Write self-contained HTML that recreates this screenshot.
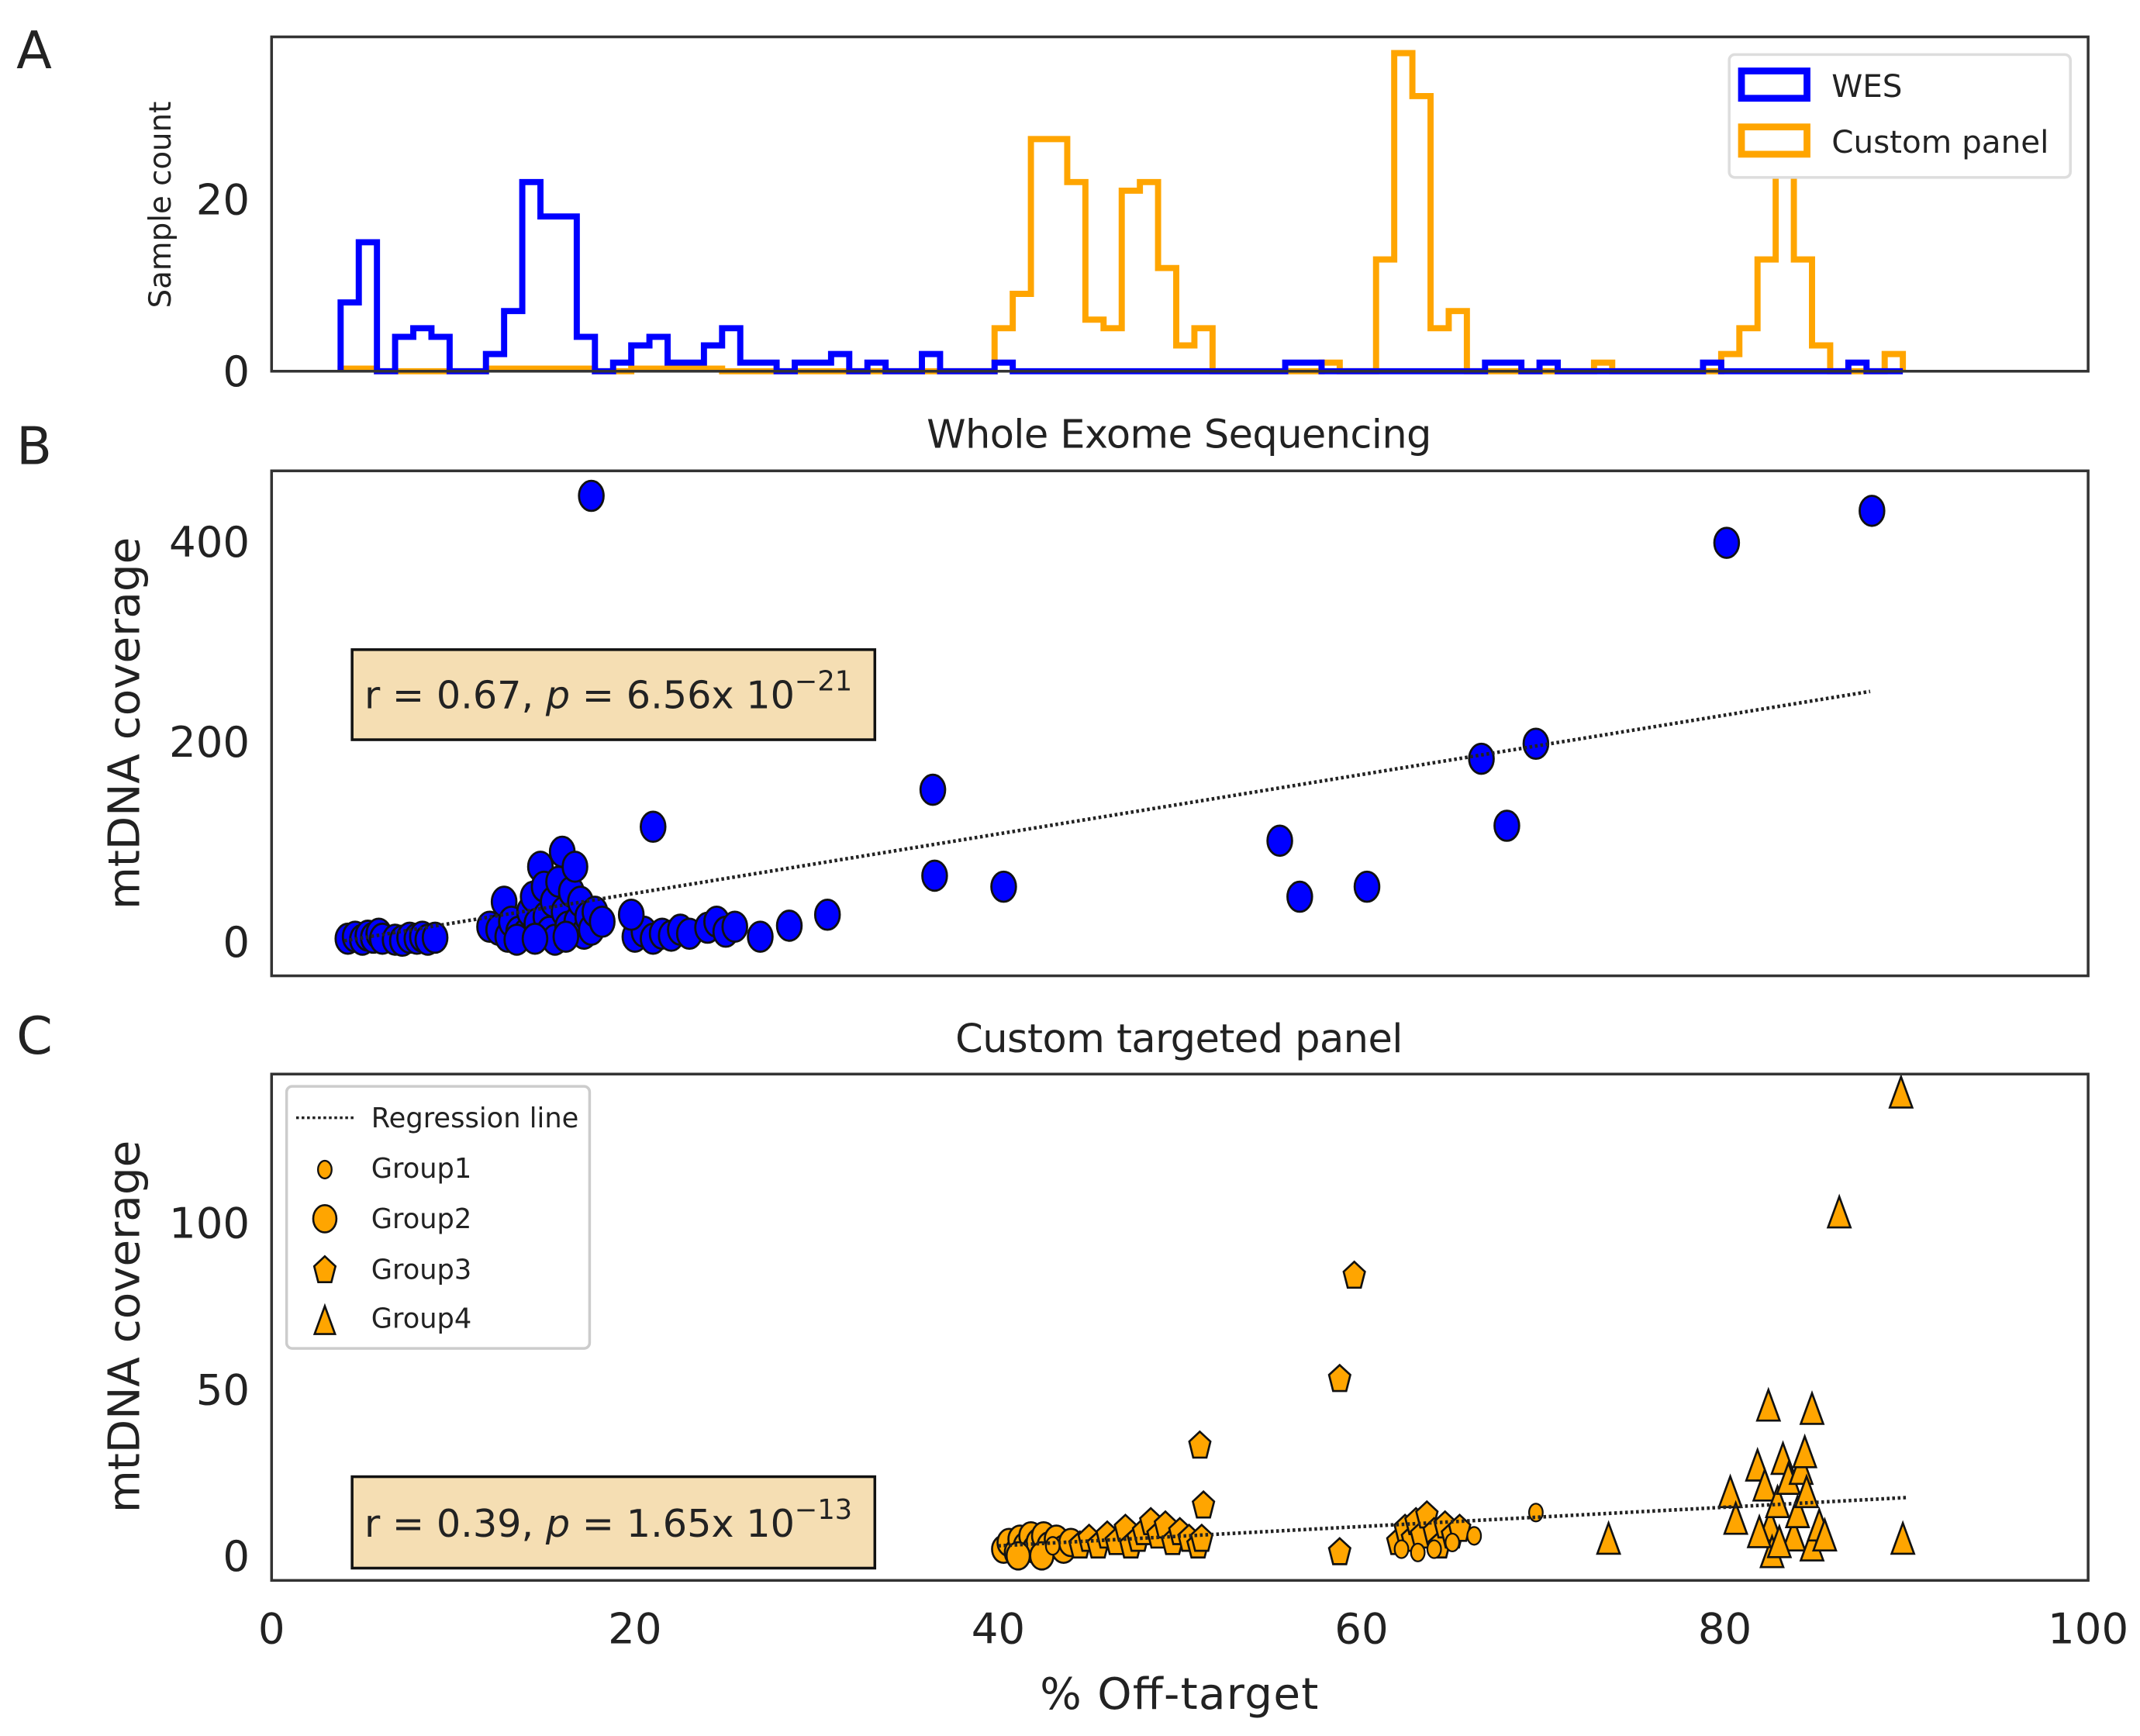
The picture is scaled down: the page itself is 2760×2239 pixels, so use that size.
<!DOCTYPE html>
<html><head><meta charset="utf-8">
<style>
html,body{margin:0;padding:0;background:#fff;}
svg{display:block;}
text{font-family:"DejaVu Sans","Liberation Sans",sans-serif;fill:#222;}
</style></head>
<body>
<svg id="fig" width="2760" height="2239" viewBox="0 0 1568 1272" xmlns="http://www.w3.org/2000/svg">
<g id="A"></g>
<g id="B"></g>
<g id="C"></g>
</svg>
<script>
// ---- data ----
const binStart = 3.8;
const binWidth = 1.0;
const wesCounts = [8,15,0,4,5,4,0,0,2,7,22,18,18,4,0,1,3,4,1,1,3,5,1,1,0,1,1,2,0,1,0,0,2,0,0,0,1,0,0,0,0,0,0,0,0,0,0,0,0,0,0,0,1,1,0,0,0,0,0,0,0,0,0,1,1,0,1,0,0,0,0,0,0,0,0,1,0,0,0,0,0,0,0,1,0,0];
const customCounts = [0.3,0.3,0,0,0,0,0,0,0.3,0.3,0.3,0.3,0.3,0.3,0,0,0.3,0.3,0.3,0.3,0.3,0,0,0,0,0,0,0,0,0,0,0,0,0,0,0,5,9,27,27,22,6,5,21,22,12,3,5,0,0,0,0,0,0,1,0,0,13,37,32,5,7,0,0,0,0,0,0,0,1,0,0,0,0,0,0,2,5,13,24,13,3,0,0,0,2];
const histYTicks = [0,20];
const xTicks = [0,20,40,60,80,100];

const wesX = [4.2,4.6,5.0,5.3,5.6,5.9,6.1,6.8,7.2,7.6,8.0,8.3,8.6,9.0,
 12.0,12.5,12.8,13.0,13.2,13.6,14.0,14.2,14.4,14.6,14.8,15.0,15.1,15.3,15.5,15.6,15.8,16.0,16.1,16.3,16.5,16.7,16.8,17.0,17.2,17.4,17.6,17.8,18.2,13.5,14.5,16.2,
 20.0,20.5,21.0,21.5,22.0,22.5,23.0,24.0,24.5,25.0,25.5,19.8,
 17.6,80.1,88.1,36.4,36.5,40.3,21.0,55.5,56.6,60.3,66.6,69.6,68.0,30.6,28.5,26.9];
const wesY = [3,5,2,6,4,8,3,2,1,4,3,5,2,4,
 15,12,40,5,20,10,8,30,45,18,75,55,25,10,40,2,60,90,30,15,50,75,20,40,8,25,12,30,20,2,3,5,
 5,10,3,8,6,12,8,14,20,10,15,27,
 446,399,431,152,66,55,115,101,45,55,183,198,116,27,16,5];
const wesYTicks = [0,200,400];
const wesFit = [-11, 2.97]; // intercept, slope
const wesFitRange = [4, 88];

const g1X = [62.2,63.1,64.0,65.0,66.2,69.6,43.0];
const g1Y = [2,1,2,4,6,13,3];
const g2X = [40.3,40.6,41.0,41.2,41.5,41.8,42.0,42.2,42.5,42.8,43.2,43.6,44.0,41.1,42.4];
const g2Y = [2,4,1,5,3,6,2,4,6,3,5,2,4,0,0];
const g3X = [44.5,45.0,45.5,46.0,46.5,47.0,47.3,47.7,48.0,48.4,48.8,49.2,49.6,50.0,50.5,51.0,51.2,51.1,51.3,58.8,59.6,58.8,62.0,62.4,62.8,63.0,63.3,63.6,64.0,64.3,64.6,65.0,65.4];
const g3Y = [3,5,3,6,4,8,3,5,7,10,6,9,4,7,5,3,5,33,15,53,84,1,4,8,5,10,6,12,7,3,9,6,8];
const g4X = [89.7,86.3,82.4,84.8,73.6,89.8,80.3,80.6,81.8,82.2,82.5,82.6,82.9,83.2,83.5,83.8,84.0,84.2,84.5,84.8,85.2,85.5,83.0,81.9,84.4];
const g4Y = [138,102,44,43,4,4,18,10,26,20,8,0,15,28,22,5,12,25,18,2,8,5,3,6,30];
const cYTicks = [0,50,100];
const cFit = [-8.6, 0.29];
const cFitRange = [40, 90];

// ---- helpers ----
const NS = "http://www.w3.org/2000/svg";
function mk(parent, tag, attrs, txt){
  const e = document.createElementNS(NS, tag);
  for (const k in attrs) e.setAttribute(k, attrs[k]);
  if (txt !== undefined) e.textContent = txt;
  parent.appendChild(e);
  return e;
}
const X0 = 199, X1 = 1530;
const sx = v => X0 + (X1 - X0) * v / 100;
const syA = v => 272 - 6.3 * v;
const syB = v => 690 - 0.7325 * v;
const syC = v => 1140 - 2.44 * v;

const A = document.getElementById('A');
const B = document.getElementById('B');
const C = document.getElementById('C');

// ---- Panel A ----
function histPath(counts){
  let d = "M" + sx(binStart) + "," + syA(0);
  counts.forEach((c, i) => {
    const xa = sx(binStart + i * binWidth), xb = sx(binStart + (i + 1) * binWidth);
    d += " L" + xa + "," + syA(c) + " L" + xb + "," + syA(c);
  });
  d += " L" + sx(binStart + counts.length * binWidth) + "," + syA(0);
  return d;
}
let p = mk(A, 'path', {d: histPath(customCounts), fill: 'none', stroke: '#FFA500', 'stroke-width': 4.5});


p = mk(A, 'path', {d: histPath(wesCounts), fill: 'none', stroke: '#0000FF', 'stroke-width': 4.5});


let fr = mk(A, 'rect', {x: 199, y: 27, width: 1331, height: 245, fill: 'none', stroke: '#333', 'stroke-width': 2});


histYTicks.forEach(t => {
  const e = mk(A, 'text', {x: 183, y: syA(t) + 11, 'font-size': 31, 'text-anchor': 'end'}, String(t));
  
  
});
let tt = mk(A, 'text', {x: 0, y: 0, 'font-size': 22, 'text-anchor': 'middle', transform: 'translate(125,150) rotate(-90)'}, 'Sample count');


tt = mk(A, 'text', {x: 12, y: 50, 'font-size': 38}, 'A');


// legend
const lg = mk(A, 'g', {});


mk(lg, 'rect', {x: 1267, y: 40, width: 250, height: 90, rx: 4, fill: '#fff', stroke: '#ddd', 'stroke-width': 2});
let le = mk(lg, 'rect', {x: 1276, y: 52, width: 48, height: 20, fill: 'none', stroke: '#0000FF', 'stroke-width': 5});


mk(lg, 'text', {x: 1342, y: 71, 'font-size': 23}, 'WES');
le = mk(lg, 'rect', {x: 1276, y: 93, width: 48, height: 20, fill: 'none', stroke: '#FFA500', 'stroke-width': 5});


mk(lg, 'text', {x: 1342, y: 112, 'font-size': 23}, 'Custom panel');

// ---- Panel B ----
tt = mk(B, 'text', {x: 864, y: 328, 'font-size': 29, 'text-anchor': 'middle', textLength: 370}, 'Whole Exome Sequencing');


tt = mk(B, 'text', {x: 12, y: 340, 'font-size': 38}, 'B');


wesYTicks.forEach(t => {
  const e = mk(B, 'text', {x: 183, y: syB(t) + 11, 'font-size': 31, 'text-anchor': 'end'}, String(t));
  
  
});
tt = mk(B, 'text', {x: 0, y: 0, 'font-size': 32, 'text-anchor': 'middle', transform: 'translate(102,530) rotate(-90)'}, 'mtDNA coverage');


wesX.forEach((x, i) => {
  const e = mk(B, 'ellipse', {cx: sx(x), cy: syB(wesY[i]), rx: 9, ry: 11, fill: '#0000FF', stroke: '#111', 'stroke-width': 1.6});
  
  
});
let fl = mk(B, 'line', {x1: sx(wesFitRange[0]), y1: syB(wesFit[0] + wesFit[1] * wesFitRange[0]), x2: sx(wesFitRange[1]), y2: syB(wesFit[0] + wesFit[1] * wesFitRange[1]), stroke: '#222', 'stroke-width': 2.6, 'stroke-dasharray': '2,2'});


fr = mk(B, 'rect', {x: 199, y: 345, width: 1331, height: 370, fill: 'none', stroke: '#333', 'stroke-width': 2});


let bx = mk(B, 'g', {});


mk(bx, 'rect', {x: 258, y: 476, width: 383, height: 66, fill: '#F5DEB3', stroke: '#111', 'stroke-width': 2});
let st = mk(bx, 'text', {x: 267, y: 519, 'font-size': 28});
st.innerHTML = 'r = 0.67, <tspan font-style="italic">p</tspan> = 6.56x 10<tspan dy="-13" font-size="20">−21</tspan>';

// ---- Panel C ----
tt = mk(C, 'text', {x: 864, y: 771, 'font-size': 29, 'text-anchor': 'middle', textLength: 328}, 'Custom targeted panel');


tt = mk(C, 'text', {x: 12, y: 772, 'font-size': 38}, 'C');


cYTicks.forEach(t => {
  const e = mk(C, 'text', {x: 183, y: syC(t) + 11, 'font-size': 31, 'text-anchor': 'end'}, String(t));
  
  
});
tt = mk(C, 'text', {x: 0, y: 0, 'font-size': 32, 'text-anchor': 'middle', transform: 'translate(102,972) rotate(-90)'}, 'mtDNA coverage');


xTicks.forEach(t => {
  const e = mk(C, 'text', {x: sx(t), y: 1204, 'font-size': 31, 'text-anchor': 'middle'}, String(t));
  
  
});
tt = mk(C, 'text', {x: 864, y: 1252, 'font-size': 32, 'text-anchor': 'middle', textLength: 204}, '% Off-target');



function pent(cx, cy, r){ let pts=[]; for(let k=0;k<5;k++){const a=-Math.PI/2+k*2*Math.PI/5; pts.push((cx+r*0.78*Math.cos(a)).toFixed(1)+","+(cy+r*Math.sin(a)).toFixed(1));} return pts.join(" "); }
function tri(cx, cy, r){ return `${cx},${cy-r*1.3} ${cx-r*0.75},${cy+r*0.75} ${cx+r*0.75},${cy+r*0.75}`; }
const ORG = '#FFA500';
g2X.forEach((x, i) => {
  const e = mk(C, 'ellipse', {cx: sx(x), cy: syC(g2Y[i]), rx: 8.5, ry: 10, fill: ORG, stroke: '#111', 'stroke-width': 1.5});
  
  
});
g3X.forEach((x, i) => {
  const e = mk(C, 'polygon', {points: pent(sx(x), syC(g3Y[i]), 10.5), fill: ORG, stroke: '#111', 'stroke-width': 1.5});
  
  
});
g1X.forEach((x, i) => {
  const e = mk(C, 'ellipse', {cx: sx(x), cy: syC(g1Y[i]), rx: 5, ry: 6.5, fill: ORG, stroke: '#111', 'stroke-width': 1.3});
  
  
});
g4X.forEach((x, i) => {
  const e = mk(C, 'polygon', {points: tri(sx(x), syC(g4Y[i]), 11), fill: ORG, stroke: '#111', 'stroke-width': 1.5});
  
  
});
fl = mk(C, 'line', {x1: sx(cFitRange[0]), y1: syC(cFit[0] + cFit[1] * cFitRange[0]), x2: sx(cFitRange[1]), y2: syC(cFit[0] + cFit[1] * cFitRange[1]), stroke: '#222', 'stroke-width': 2.6, 'stroke-dasharray': '2,2'});


fr = mk(C, 'rect', {x: 199, y: 787, width: 1331, height: 371, fill: 'none', stroke: '#333', 'stroke-width': 2});


bx = mk(C, 'g', {});


mk(bx, 'rect', {x: 258, y: 1082, width: 383, height: 67, fill: '#F5DEB3', stroke: '#111', 'stroke-width': 2});
st = mk(bx, 'text', {x: 267, y: 1126, 'font-size': 28});
st.innerHTML = 'r = 0.39, <tspan font-style="italic">p</tspan> = 1.65x 10<tspan dy="-13" font-size="20">−13</tspan>';
// legend C
const lc = mk(C, 'g', {});


mk(lc, 'rect', {x: 210, y: 796, width: 222, height: 192, rx: 4, fill: '#fff', stroke: '#ccc', 'stroke-width': 2});
mk(lc, 'line', {x1: 217, y1: 819, x2: 260, y2: 819, stroke: '#222', 'stroke-width': 2, 'stroke-dasharray': '2,2'});
mk(lc, 'text', {x: 272, y: 826, 'font-size': 20, textLength: 152}, 'Regression line');
mk(lc, 'ellipse', {cx: 238, cy: 857, rx: 5, ry: 6.5, fill: ORG, stroke: '#111', 'stroke-width': 1.3});
mk(lc, 'text', {x: 272, y: 863, 'font-size': 20}, 'Group1');
mk(lc, 'ellipse', {cx: 238, cy: 893, rx: 8.5, ry: 10, fill: ORG, stroke: '#111', 'stroke-width': 1.5});
mk(lc, 'text', {x: 272, y: 900, 'font-size': 20}, 'Group2');
mk(lc, 'polygon', {points: pent(238, 931, 10.5), fill: ORG, stroke: '#111', 'stroke-width': 1.5});
mk(lc, 'text', {x: 272, y: 937, 'font-size': 20}, 'Group3');
mk(lc, 'polygon', {points: tri(238, 970, 10), fill: ORG, stroke: '#111', 'stroke-width': 1.5});
mk(lc, 'text', {x: 272, y: 973, 'font-size': 20}, 'Group4');
</script>
</body></html>
